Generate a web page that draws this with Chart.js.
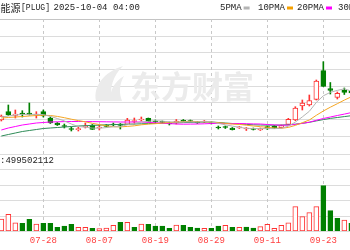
<!DOCTYPE html>
<html>
<head>
<meta charset="utf-8">
<script src="https://cdn.jsdelivr.net/npm/chart.js@4"></script>
<style>
  html, body { margin: 0; padding: 0; background: #fff; overflow: hidden; }
</style>
</head>
<body>
<canvas id="kline" width="350" height="250"></canvas>
<script>
// trading days shown in the window (left edge to right edge)
const dates = ["07-18","07-21","07-22","07-23","07-24","07-25","07-28","07-29","07-30","07-31",
  "08-01","08-04","08-05","08-06","08-07","08-08","08-11","08-12","08-13","08-14",
  "08-15","08-18","08-19","08-20","08-21","08-22","08-25","08-26","08-27","08-28",
  "08-29","09-02","09-03","09-04","09-05","09-08","09-09","09-10","09-11","09-12",
  "09-15","09-16","09-17","09-18","09-19","09-22","09-23","09-24","09-25","09-26","09-29"];
const tickDates = ["07-28","08-07","08-19","08-29","09-11","09-23"];

const opens = [1.40,1.485,1.447,1.47,1.47,1.45,1.483,1.42,1.37,1.345,1.315,1.303,1.33,1.35,1.32,1.347,1.36,1.36,1.357,1.385,
  1.40,1.417,1.39,1.383,1.37,1.37,1.397,1.395,1.38,1.38,1.375,1.33,1.335,1.32,1.322,1.31,1.316,1.30,1.335,1.34,
  1.323,1.357,1.40,1.54,1.55,1.607,1.893,1.715,1.625,1.70,1.693];
const highs = [1.45,1.55,1.50,1.493,1.57,1.483,1.50,1.43,1.375,1.36,1.33,1.33,1.37,1.355,1.35,1.355,1.37,1.365,1.417,1.42,
  1.43,1.42,1.40,1.39,1.38,1.405,1.405,1.40,1.385,1.395,1.38,1.34,1.34,1.325,1.335,1.325,1.32,1.32,1.34,1.345,
  1.35,1.417,1.533,1.60,1.65,1.80,1.983,1.775,1.68,1.72,1.71];
const lows = [1.39,1.445,1.42,1.43,1.45,1.42,1.43,1.365,1.345,1.32,1.29,1.29,1.32,1.305,1.30,1.33,1.34,1.31,1.355,1.36,
  1.39,1.38,1.375,1.37,1.35,1.36,1.385,1.38,1.365,1.375,1.36,1.31,1.315,1.30,1.315,1.295,1.30,1.295,1.305,1.315,
  1.32,1.35,1.393,1.50,1.54,1.60,1.735,1.66,1.61,1.655,1.66];
const closes = [1.44,1.452,1.46,1.455,1.452,1.46,1.44,1.37,1.35,1.335,1.305,1.313,1.337,1.307,1.327,1.337,1.35,1.347,1.40,1.392,
  1.407,1.383,1.38,1.377,1.36,1.39,1.387,1.384,1.372,1.385,1.365,1.32,1.325,1.303,1.328,1.316,1.305,1.308,1.31,1.317,
  1.343,1.407,1.52,1.57,1.595,1.788,1.737,1.695,1.667,1.675,1.67];

// moving averages
const ma5 = [1.43,1.44,1.45,1.455,1.456,1.456,1.454,1.436,1.415,1.391,1.36,1.335,1.328,1.319,1.318,1.324,1.332,1.334,1.353,1.366,
  1.38,1.386,1.393,1.388,1.382,1.379,1.38,1.381,1.38,1.385,1.38,1.366,1.352,1.339,1.327,1.317,1.315,1.314,1.315,1.313,
  1.318,1.338,1.379,1.431,1.487,1.576,1.642,1.677,1.696,1.712,1.689];
const ma10 = [1.42,1.425,1.43,1.435,1.44,1.445,1.447,1.445,1.436,1.423,1.408,1.394,1.382,1.367,1.354,1.342,1.333,1.331,1.336,1.342,
  1.352,1.359,1.363,1.37,1.374,1.379,1.383,1.387,1.384,1.383,1.379,1.373,1.366,1.359,1.356,1.348,1.34,1.333,1.327,1.32,
  1.317,1.326,1.346,1.373,1.40,1.447,1.49,1.528,1.563,1.599,1.632];
const ma20 = [1.30,1.32,1.335,1.35,1.36,1.37,1.375,1.38,1.382,1.384,1.385,1.385,1.385,1.384,1.383,1.382,1.381,1.38,1.38,1.38,
  1.38,1.376,1.372,1.368,1.364,1.36,1.358,1.359,1.36,1.362,1.365,1.366,1.364,1.364,1.365,1.363,1.361,1.36,1.355,1.351,
  1.348,1.349,1.356,1.366,1.378,1.397,1.415,1.43,1.445,1.459,1.474];
const ma30 = [1.24,1.255,1.27,1.285,1.295,1.305,1.315,1.32,1.325,1.33,1.335,1.34,1.343,1.346,1.349,1.352,1.354,1.356,1.358,1.36,
  1.362,1.364,1.366,1.368,1.37,1.372,1.374,1.376,1.378,1.379,1.38,1.375,1.37,1.365,1.361,1.356,1.352,1.35,1.349,1.348,
  1.349,1.353,1.358,1.367,1.377,1.391,1.404,1.416,1.425,1.434,1.443];

// volume, millions of shares
const volumes = [77.8,108.3,53.8,50.0,75.9,45.4,50.0,50.0,24.0,32.4,43.5,24.0,24.0,17.5,14.9,19.5,37.0,56.4,56.4,24.0,
  45.4,43.5,32.4,32.4,17.5,38.9,37.0,24.0,19.5,17.5,17.5,32.4,37.0,24.0,24.0,25.9,19.5,27.9,43.5,17.5,
  37.0,53.8,157.6,92.8,118.7,157.6,293.9,131.7,82.4,71.4,50.0];

// grid levels of the two panels
const priceTicks = [1.2430, 1.4097, 1.5765, 1.7432, 1.9099, 2.0766, 2.2433, 2.41];
const volTicks = [0, 99.9, 199.8, 299.7, 399.6, 499.5];

const RED = "#ff3232";
const GREEN = "#008000";
const candleUp = i => closes[i] >= opens[i];
const volUp = i => i === 0 ? candleUp(0) : closes[i] >= closes[i - 1];

const ctx = document.getElementById("kline").getContext("2d");

const decor = {
  id: "decor",
  beforeDatasetsDraw(chart) {
    const c = chart.ctx;
    const { left, right, top, bottom } = chart.chartArea;
    const sx = chart.scales.x, sy = chart.scales.y, sv = chart.scales.yv;
    c.save();
    c.lineWidth = 1;
    // horizontal grid
    [...priceTicks.map(v => sy.getPixelForValue(v)), ...volTicks.map(v => sv.getPixelForValue(v))].forEach(py => {
      const y = Math.round(py) + 0.5;
      c.strokeStyle = y < top + 2 ? "#c4c4c4" : "#dcdcdc";
      c.beginPath(); c.moveTo(left, y); c.lineTo(right, y); c.stroke();
    });
    // dashed date lines
    c.strokeStyle = "#c8c8c8";
    c.setLineDash([3, 3]);
    tickDates.forEach(d => {
      const x = Math.round(sx.getPixelForValue(dates.indexOf(d))) + 0.5;
      c.beginPath(); c.moveTo(x, top); c.lineTo(x, bottom); c.stroke();
    });
    c.setLineDash([]);

    // watermark
    c.fillStyle = "#ebebeb";
    c.beginPath();
    c.moveTo(96, 101);
    c.bezierCurveTo(93, 86, 104, 72, 123, 66);
    c.bezierCurveTo(113, 76, 109, 88, 112, 101);
    c.closePath();
    c.fill();
    c.beginPath();
    c.moveTo(110, 101);
    c.bezierCurveTo(110, 90, 114, 82, 124, 76);
    c.bezierCurveTo(119, 85, 119, 93, 122, 101);
    c.closePath();
    c.fill();
    c.font = "bold 31px 'Noto Sans CJK SC'";
    c.textBaseline = "middle";
    c.fillText("东方财富", 130, 86);
    c.restore();
  },
  afterDraw(chart) {
    const c = chart.ctx;
    c.save();
    c.textBaseline = "middle";
    c.fillStyle = "#222";
    c.font = "10px 'Noto Sans CJK SC'";
    c.textAlign = "right";
    c.fillText("普拉格能源", 20.5, 8);
    c.textAlign = "left";
    c.font = "9px 'Liberation Mono'";
    c.fillText("[PLUG]", 21, 8, 29);
    c.fillText("2025-10-04 04:00", 53.5, 8);

    // legend
    const items = [["5PMA", "#b4b4b4", 220], ["10PMA", "#f5a000", 258], ["20PMA", "#ff00ff", 297], ["30PMA", "#2e8b57", 338]];
    items.forEach(([name, col, x]) => {
      c.fillStyle = "#222";
      c.fillText(name, x, 8);
      c.fillStyle = col;
      c.fillRect(x + name.length * 5.4 + 2, 6.5, 6, 3);
    });

    // volume panel caption
    c.fillStyle = "#222";
    c.font = "10px 'Noto Sans CJK SC'";
    c.textAlign = "right";
    c.fillText("成交量", 0, 160.5);
    c.textAlign = "left";
    c.font = "9px 'Liberation Mono'";
    c.fillText(":499502112", 0, 160.5);
    c.restore();
  }
};

const pts = arr => arr.map((v, i) => ({ x: i, y: v }));
const maLine = (label, arr, color) => ({
  type: "line", label, data: pts(arr), yAxisID: "y",
  borderColor: color, borderWidth: 1, pointRadius: 0, tension: 0, order: 0
});

new Chart(ctx, {
  type: "bar",
  data: {
    datasets: [
      maLine("5PMA", ma5, "#b4b4b4"),
      maLine("10PMA", ma10, "#f5a623"),
      maLine("20PMA", ma20, "#ff00ff"),
      maLine("30PMA", ma30, "#2e8b57"),
      {
        label: "body",
        data: opens.map((o, i) => ({ x: i, y: [o, closes[i]] })),
        yAxisID: "y", grouped: false, barThickness: 5, minBarLength: 1,
        borderWidth: 1, borderSkipped: false,
        backgroundColor: c => candleUp(c.dataIndex) ? "#fff" : GREEN,
        borderColor: c => candleUp(c.dataIndex) ? RED : GREEN,
        order: 1
      },
      {
        label: "wick",
        data: lows.map((l, i) => ({ x: i, y: [l, highs[i]] })),
        yAxisID: "y", grouped: false, barThickness: 1,
        backgroundColor: c => candleUp(c.dataIndex) ? RED : GREEN,
        order: 2
      },
      {
        label: "volume",
        data: pts(volumes),
        yAxisID: "yv", grouped: false, barThickness: 5,
        borderWidth: 1, borderSkipped: false,
        backgroundColor: c => volUp(c.dataIndex) ? "#fff" : GREEN,
        borderColor: c => volUp(c.dataIndex) ? RED : GREEN,
        order: 3
      }
    ]
  },
  options: {
    responsive: false,
    animation: false,
    layout: { padding: { top: 19, left: 0, right: 0, bottom: 0 } },
    plugins: { legend: { display: false }, tooltip: { enabled: false } },
    scales: {
      x: {
        type: "linear",
        offset: false,
        min: -0.19,
        max: 49.81,
        afterBuildTicks: s => { s.ticks = tickDates.map(d => ({ value: dates.indexOf(d) })); },
        afterFit: s => { s.height = 19; },
        ticks: {
          autoSkip: false, maxRotation: 0, padding: 4,
          color: "#ff4040",
          font: { family: "Liberation Mono", size: 9 },
          callback: v => dates[v]
        },
        grid: { display: false, offset: false, drawTicks: false },
        border: { display: false }
      },
      y: {
        position: "left",
        min: 0.29,
        max: 2.41,
        afterFit: s => { s.width = 0; },
        ticks: { display: false },
        grid: { display: false },
        border: { display: false }
      },
      yv: {
        position: "left",
        min: 0,
        max: 1375.2,
        afterFit: s => { s.width = 0; },
        ticks: { display: false },
        grid: { display: false },
        border: { display: false }
      }
    }
  },
  plugins: [decor]
});
</script>
</body>
</html>
